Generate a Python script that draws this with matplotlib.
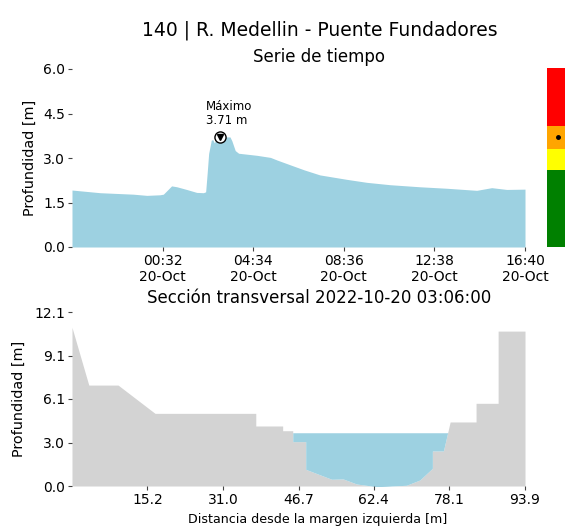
import matplotlib
matplotlib.use("Agg")
import matplotlib.pyplot as plt
import matplotlib.dates as mdates
import pandas as pd
import numpy as np

# ---- time series data ----
times = ["2022-10-19 20:30", "2022-10-19 21:45", "2022-10-19 23:14", "2022-10-19 23:50",
         "2022-10-20 00:25", "2022-10-20 00:34", "2022-10-20 00:56", "2022-10-20 01:10",
         "2022-10-20 01:36", "2022-10-20 02:03", "2022-10-20 02:21", "2022-10-20 02:27",
         "2022-10-20 02:31", "2022-10-20 02:35", "2022-10-20 02:42", "2022-10-20 02:46",
         "2022-10-20 02:50", "2022-10-20 02:57", "2022-10-20 03:06", "2022-10-20 03:32",
         "2022-10-20 03:37", "2022-10-20 03:46", "2022-10-20 03:55", "2022-10-20 04:44",
         "2022-10-20 05:20", "2022-10-20 05:38", "2022-10-20 06:15", "2022-10-20 06:50",
         "2022-10-20 07:32", "2022-10-20 08:44", "2022-10-20 09:37", "2022-10-20 10:39",
         "2022-10-20 11:59", "2022-10-20 13:11", "2022-10-20 14:31", "2022-10-20 15:11",
         "2022-10-20 15:51", "2022-10-20 16:40"]
depth = [1.92, 1.83, 1.78, 1.74,
         1.76, 1.78, 2.06, 2.03,
         1.94, 1.84, 1.83, 1.86,
         2.48, 3.15, 3.60, 3.62,
         3.51, 3.66, 3.71, 3.71,
         3.58, 3.25, 3.16, 3.09,
         3.02, 2.93, 2.76, 2.60,
         2.43, 2.28, 2.18, 2.10,
         2.03, 1.98, 1.91, 2.00,
         1.94, 1.95]
max_time = "2022-10-20 03:06"
max_depth = 3.71

# alert levels (colour bar)
level_bounds = [0.0, 2.6, 3.3, 4.07, 6.0]
level_colors = ["green", "yellow", "orange", "red"]

# ---- cross section data ----
dist = [-0.5, 3.0, 9.1, 16.8, 37.8, 37.8, 43.4, 43.4, 45.5, 45.5, 48.2, 48.2, 53.6, 56.0,
        58.8, 63.0, 69.2, 72.0, 74.6, 74.6, 76.9, 78.3, 83.7, 83.7, 88.3, 88.3, 93.9]
elev = [11.05, 7.03, 7.03, 5.06, 5.06, 4.18, 4.18, 3.85, 3.85, 3.09, 3.09, 1.16, 0.47, 0.49,
        0.14, -0.05, 0.05, 0.42, 1.23, 2.44, 2.44, 4.46, 4.46, 5.76, 5.76, 10.79, 10.79]
water_level = 3.71
sec_xticks = [15.2, 31.0, 46.7, 62.4, 78.1, 93.9]
sec_yticks = [0.0, 3.03, 6.06, 9.09, 12.12]
sec_yticklabels = ["0.0", "3.0", "6.1", "9.1", "12.1"]

blue = "#9dd1e1"
gray = "lightgray"

t = pd.to_datetime(times)
W, H = 565, 527
fig = plt.figure(figsize=(W / 100, H / 100), dpi=100)

def rect(l, t_, r, b):
    return [l / W, 1 - b / H, (r - l) / W, (b - t_) / H]

def style(ax):
    for s in ax.spines.values():
        s.set_visible(False)
    ax.tick_params(length=3, width=0.8, color="#444444", labelsize=10, pad=2)

# top axes
ax1 = fig.add_axes(rect(72, 69, 525, 247))
ax1.fill_between(t, depth, 0, color=blue, linewidth=0)
ax1.set_xlim(t[0], t[-1])
ax1.set_ylim(0, 6.0)
ax1.set_yticks([0.0, 1.5, 3.0, 4.5, 6.0])
ax1.yaxis.set_major_formatter(matplotlib.ticker.FormatStrFormatter("%.1f"))
xt = pd.date_range(t[0], t[-1], periods=6)[1:]
ax1.set_xticks(xt)
ax1.xaxis.set_major_formatter(mdates.DateFormatter("%H:%M\n%d-%b"))
ax1.set_ylabel("Profundidad [m]", fontsize=10.4)
ax1.yaxis.set_label_coords((37 - 72) / 453, 0.5)
style(ax1)
mt = pd.Timestamp(max_time)
ax1.plot([mt], [max_depth], marker="o", ms=8, mfc="white", mec="black", mew=1.0, zorder=5)
ax1.plot([mt], [max_depth], marker="v", ms=4.5, color="black", zorder=6)
ax1.annotate("Máximo\n%.2f m" % max_depth, xy=(mt, max_depth), xytext=(-10.5, 7.5),
             textcoords="offset points", fontsize=8.5, ha="left", va="bottom",
             linespacing=1.1)

# colour bar
axc = fig.add_axes(rect(547, 68.5, 568, 247.3))
for i, c in enumerate(level_colors):
    axc.axhspan(level_bounds[i], level_bounds[i + 1], color=c, linewidth=0)
axc.plot([0.5], [max_depth], "o", color="black", ms=2.5)
axc.set_xlim(0, 1)
axc.set_ylim(0, 6.0)
axc.axis("off")

# bottom axes
ax2 = fig.add_axes(rect(72, 312, 525, 486))
ax2.fill_between(dist, elev, 0, color=gray, linewidth=0)
ev = np.array(elev)
ax2.fill_between(dist, elev, water_level, where=ev < water_level, interpolate=True,
                 color=blue, linewidth=0)
ax2.set_xlim(-0.5, 93.9)
ax2.set_ylim(0, 12.12)
ax2.set_xticks(sec_xticks)
ax2.set_xticklabels(["%.1f" % v for v in sec_xticks])
ax2.set_yticks(sec_yticks)
ax2.set_yticklabels(sec_yticklabels)
ax2.set_ylabel("Profundidad [m]", fontsize=10.4)
ax2.yaxis.set_label_coords((26 - 72) / 453, 0.5)
style(ax2)

fig.text(319.5 / W, 1 - 30 / H, "140 | R. Medellin - Puente Fundadores", fontsize=13.5,
         ha="center", va="center")
fig.text(319 / W, 1 - 57 / H, "Serie de tiempo", fontsize=12, ha="center", va="center")
fig.text(319.5 / W, 1 - 298 / H, "Sección transversal 2022-10-20 03:06:00", fontsize=12,
         ha="center", va="center")
fig.text(318 / W, 1 - 519 / H, "Distancia desde la margen izquierda [m]", fontsize=9.1,
         ha="center", va="center")

fig.savefig("out.png", dpi=100)
